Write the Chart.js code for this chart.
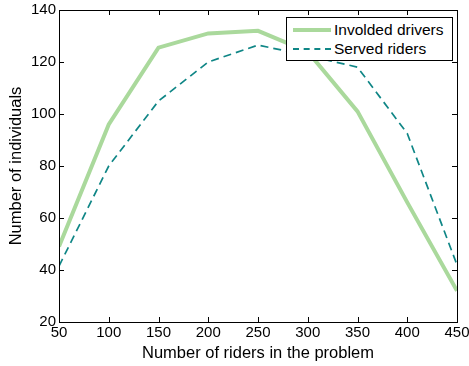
<!DOCTYPE html>
<html>
<head>
<meta charset="utf-8">
<script src="https://cdn.jsdelivr.net/npm/chart.js@4"></script>
<style>
  html, body { margin: 0; padding: 0; background: #ffffff; }
  #wrap { position: relative; width: 469px; height: 366px; }
  #legendBox {
    position: absolute; left: 286px; top: 17px; width: 165px; height: 42px;
    background: #ffffff; border: 1px solid #000000;
    font: 15.5px "Liberation Sans", Arial, sans-serif; color: #000000;
  }
  .legend-row { position: absolute; left: 6px; height: 18px; display: flex; align-items: center; white-space: nowrap; }
  .legend-row span.sample { display: inline-block; width: 38px; margin-right: 3px; }
</style>
</head>
<body>
<div id="wrap">
  <canvas id="chart" width="469" height="366"></canvas>
  <div id="legendBox">
    <div class="legend-row" style="top:3px"><span class="sample" style="border-top:4px solid #aad99c"></span>Involded drivers</div>
    <div class="legend-row" style="top:22px"><span class="sample" style="border-top:2px dashed #0f8686"></span>Served riders</div>
  </div>
</div>
<script>
const riders = [50, 100, 150, 200, 250, 300, 350, 400, 450];
const involvedDrivers = [49, 96, 125.5, 131, 132, 124, 101, 66, 32];
const servedRiders = [41.5, 80, 105, 120, 126.5, 122.5, 118, 92.5, 42];
const xTicks = [50, 100, 150, 200, 250, 300, 350, 400, 450];
const yTicks = [20, 40, 60, 80, 100, 120, 140];

const FONT = "'Liberation Sans', Arial, sans-serif";

// MATLAB-style box with ticks pointing inward
const boxTicks = {
  id: "boxTicks",
  afterDraw(chart) {
    const { ctx, chartArea, scales } = chart;
    const len = 5;
    ctx.save();
    ctx.strokeStyle = "#000000";
    ctx.lineWidth = 1;
    ctx.beginPath();
    xTicks.forEach(value => {
      const px = Math.round(scales.x.getPixelForValue(value)) + 0.5;
      ctx.moveTo(px, chartArea.bottom);
      ctx.lineTo(px, chartArea.bottom - len);
      ctx.moveTo(px, chartArea.top);
      ctx.lineTo(px, chartArea.top + len);
    });
    yTicks.forEach(value => {
      const py = Math.round(scales.y.getPixelForValue(value)) + 0.5;
      ctx.moveTo(chartArea.left, py);
      ctx.lineTo(chartArea.left + len, py);
      ctx.moveTo(chartArea.right, py);
      ctx.lineTo(chartArea.right - len, py);
    });
    ctx.stroke();
    ctx.strokeRect(Math.round(chartArea.left) + 0.5, Math.round(chartArea.top) + 0.5,
      Math.round(chartArea.right - chartArea.left), Math.round(chartArea.bottom - chartArea.top));
    ctx.restore();
  }
};

new Chart(document.getElementById("chart"), {
  type: "line",
  data: {
    datasets: [
      {
        label: "Served riders",
        data: riders.map((x, i) => ({ x, y: servedRiders[i] })),
        borderColor: "#0f8686",
        borderWidth: 1.7,
        borderDash: [8, 5],
        pointRadius: 0,
        tension: 0,
        order: 0
      },
      {
        label: "Involded drivers",
        data: riders.map((x, i) => ({ x, y: involvedDrivers[i] })),
        borderColor: "#aad99c",
        borderWidth: 4,
        pointRadius: 0,
        tension: 0,
        order: 1
      }
    ]
  },
  options: {
    responsive: false,
    animation: false,
    devicePixelRatio: 1,
    layout: { padding: { top: 10, right: 12, left: 0, bottom: 0 } },
    plugins: { legend: { display: false }, tooltip: { enabled: false } },
    scales: {
      x: {
        type: "linear",
        min: 50,
        max: 450,
        afterBuildTicks: scale => { scale.ticks = xTicks.map(value => ({ value })); },
        afterFit: scale => {
          scale.height = 44;
          scale.paddingLeft = 0;
          scale.paddingRight = 0;
        },
        grid: { display: false, drawTicks: false },
        border: { display: false },
        ticks: { color: "#000000", font: { family: FONT, size: 15 }, padding: 2, maxRotation: 0 },
        title: {
          display: true,
          text: "Number of riders in the problem",
          color: "#000000",
          font: { family: FONT, size: 16.5 },
          padding: { top: 0, bottom: 3 }
        }
      },
      y: {
        min: 20,
        max: 140,
        afterBuildTicks: scale => { scale.ticks = yTicks.map(value => ({ value })); },
        afterFit: scale => {
          scale.width = 59;
          scale.paddingTop = 0;
          scale.paddingBottom = 0;
        },
        grid: { display: false, drawTicks: false },
        border: { display: false },
        ticks: { color: "#000000", font: { family: FONT, size: 15 }, padding: 3 },
        title: {
          display: true,
          text: "Number of individuals",
          color: "#000000",
          font: { family: FONT, size: 16.5 },
          padding: { top: 7, bottom: 0 }
        }
      }
    }
  },
  plugins: [boxTicks]
});
</script>
</body>
</html>
